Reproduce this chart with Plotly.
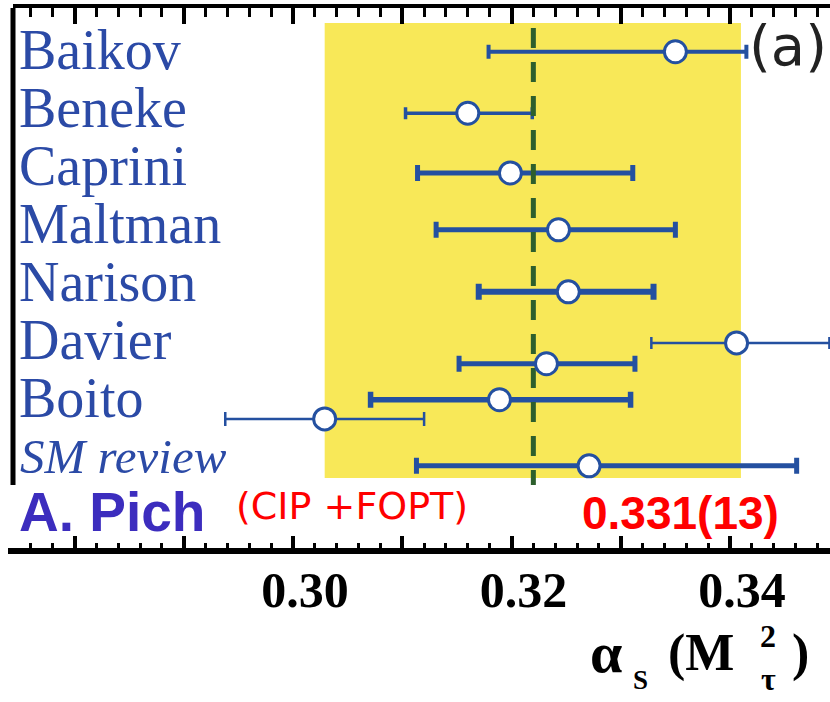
import plotly.graph_objects as go

# ---------------- data ----------------
names = ["Baikov", "Beneke", "Caprini", "Maltman", "Narison", "Davier", "Boito", "SM review", "A. Pich"]
label_rows = [0, 1, 2, 3, 4, 5, 6, 7, 8]

meas_author = ["Baikov", "Beneke", "Caprini", "Maltman", "Narison", "Davier", "Davier", "Boito", "Boito", "SM review"]
meas_row = [0.03, 1.09, 2.12, 3.10, 4.17, 5.05, 5.41, 6.03, 6.36, 7.17]
meas_center = [0.3350, 0.3160, 0.3199, 0.3243, 0.3252, 0.3406, 0.3232, 0.3189, 0.3029, 0.3271]
meas_low = [0.3179, 0.3103, 0.3114, 0.3131, 0.3170, 0.3328, 0.3152, 0.3071, 0.2938, 0.3113]
meas_high = [0.3415, 0.3219, 0.3311, 0.3350, 0.3330, 0.3491, 0.3313, 0.3309, 0.3120, 0.3461]

band_low, band_high = 0.3029, 0.3410
central_value = 0.3220
pich_note = "(CIP +FOPT)"
pich_value = "0.331(13)"

tick_vals = [0.28, 0.29, 0.30, 0.31, 0.32, 0.33, 0.34]
tick_text = ["", "", "0.30", "", "0.32", "", "0.34"]

# ---------------- style ----------------
W, H = 830, 702
ML, MR, MT, MB = 13, 0, 8, 154
PW, PH = W - ML - MR, H - MT - MB
XR = [0.274371, 0.349153]
YR = [8.5862, -0.7241]

BLUE = "#2450a0"
NAME_BLUE = "#2b4aa6"
thick = [4, 3.5, 5, 5, 6, 2.5, 5, 5.5, 2.5, 5]
capw = [7, 6, 8, 8, 8, 6, 8, 8, 7, 8]


def px(xp):
    return (xp - ML) / PW


def py(yp):
    return (MT + PH - yp) / PH


fig = go.Figure()

# error bars
for i in range(len(meas_center)):
    c, lo, hi = meas_center[i], meas_low[i], meas_high[i]
    fig.add_trace(go.Scatter(
        x=[c], y=[meas_row[i]], mode="markers",
        marker=dict(size=1, color="rgba(0,0,0,0)"),
        error_x=dict(type="data", symmetric=False, array=[hi - c], arrayminus=[c - lo],
                     color=BLUE, thickness=thick[i], width=capw[i]),
        hoverinfo="skip", showlegend=False, name=meas_author[i]))

# central dashed line
fig.add_trace(go.Scatter(
    x=[central_value, central_value], y=[-0.38, 7.5], mode="lines",
    line=dict(color="#2d5f2d", width=5, dash="20px,14px"),
    hoverinfo="skip", showlegend=False))

# open circles
fig.add_trace(go.Scatter(
    x=meas_center, y=meas_row, mode="markers",
    marker=dict(symbol="circle", size=22, color="white", line=dict(color=BLUE, width=3)),
    text=meas_author, hoverinfo="text", showlegend=False))

# dummy trace for top axis
fig.add_trace(go.Scatter(x=[central_value], y=[0], xaxis="x2", mode="markers",
                         marker=dict(size=1, color="rgba(0,0,0,0)"), hoverinfo="skip", showlegend=False))

# yellow band
fig.add_shape(type="rect", xref="x", yref="y", x0=band_low, x1=band_high, y0=-0.466, y1=7.379,
              fillcolor="#f8e858", line=dict(width=0), layer="below")
# left frame line (only down to the SM review row)
fig.add_shape(type="line", xref="paper", yref="paper", x0=0, x1=0, y0=1, y1=py(485),
              line=dict(color="black", width=5))
# short extension of the bottom axis line to the left edge
fig.add_shape(type="line", xref="paper", yref="paper", x0=px(8), x1=0, y0=py(551), y1=py(551),
              line=dict(color="black", width=6))

ann = []
# author labels
for n, r in zip(names[:-2], label_rows[:-2]):
    ann.append(dict(text=n, xref="paper", yref="y", x=px(17), y=r, xanchor="left", yanchor="middle",
                    showarrow=False, font=dict(family="Liberation Serif", size=56, color=NAME_BLUE)))
ann.append(dict(text="<i>" + names[7] + "</i>", xref="paper", yref="y", x=px(18), y=label_rows[7],
                xanchor="left", yanchor="middle", showarrow=False,
                font=dict(family="Liberation Serif", size=49, color=NAME_BLUE)))
ann.append(dict(text="<b>" + names[8] + "</b>", xref="paper", yref="paper", x=px(17), y=py(512),
                xanchor="left", yanchor="middle", showarrow=False,
                font=dict(family="Liberation Sans", size=55, color="#3c2dbe")))
ann.append(dict(text=pich_note, xref="paper", yref="paper", x=px(234), y=py(506),
                xanchor="left", yanchor="middle", showarrow=False,
                font=dict(family="DejaVu Sans", size=38, color="#ff0000")))
ann.append(dict(text="<b>" + pich_value + "</b>", xref="paper", yref="paper", x=px(580), y=py(513),
                xanchor="left", yanchor="middle", showarrow=False,
                font=dict(family="Liberation Sans", size=46, color="#ff0000")))
ann.append(dict(text="(a)", xref="paper", yref="paper", x=px(747), y=py(45),
                xanchor="left", yanchor="middle", showarrow=False,
                font=dict(family="DejaVu Sans", size=56, color="#222222")))

# axis title pieces: alpha_s (M_tau^2)
tfont = dict(family="Liberation Serif", color="black", weight="bold")
ann.append(dict(text="α", xref="paper", yref="paper", x=px(588), y=py(652), xanchor="left", yanchor="middle",
                showarrow=False, font=dict(size=58, **tfont)))
ann.append(dict(text="S", xref="paper", yref="paper", x=px(631), y=py(680), xanchor="left", yanchor="middle",
                showarrow=False, font=dict(size=27, **tfont)))
ann.append(dict(text="(M", xref="paper", yref="paper", x=px(666), y=py(653), xanchor="left", yanchor="middle",
                showarrow=False, font=dict(size=52, **tfont)))
ann.append(dict(text="2", xref="paper", yref="paper", x=px(758), y=py(636), xanchor="left", yanchor="middle",
                showarrow=False, font=dict(size=32, **tfont)))
ann.append(dict(text="τ", xref="paper", yref="paper", x=px(759), y=py(679), xanchor="left", yanchor="middle",
                showarrow=False, font=dict(size=32, **tfont)))
ann.append(dict(text=")", xref="paper", yref="paper", x=px(790), y=py(653), xanchor="left", yanchor="middle",
                showarrow=False, font=dict(size=52, **tfont)))

fig.update_layout(
    width=W, height=H, margin=dict(l=ML, r=MR, t=MT, b=MB, pad=0),
    paper_bgcolor="white", plot_bgcolor="white", showlegend=False,
    annotations=ann,
    xaxis=dict(range=XR, tickmode="array", tickvals=tick_vals, ticktext=tick_text,
               ticks="inside", ticklen=12, tickwidth=4, tickcolor="black",
               showline=True, linecolor="black", linewidth=6, mirror=False,
               showgrid=False, zeroline=False,
               tickfont=dict(family="Liberation Serif", size=50, color="black", weight="bold"),
               ticklabelshift=12, ticklabelstandoff=-7,
               minor=dict(tickmode="linear", tick0=0.27, dtick=0.002, ticks="inside", ticklen=5,
                          tickwidth=3, tickcolor="black", showgrid=False)),
    xaxis2=dict(range=XR, matches="x", overlaying="x", side="top", anchor="y",
                tickmode="array", tickvals=tick_vals, showticklabels=False,
                ticks="inside", ticklen=16, tickwidth=4, tickcolor="black",
                showline=True, linecolor="black", linewidth=4,
                showgrid=False, zeroline=False,
                minor=dict(tickmode="linear", tick0=0.27, dtick=0.002, ticks="inside", ticklen=9,
                           tickwidth=3, tickcolor="black", showgrid=False)),
    yaxis=dict(range=YR, visible=True, showline=False, showticklabels=False, ticks="",
               showgrid=False, zeroline=False),
)

fig.write_html("out.html")
